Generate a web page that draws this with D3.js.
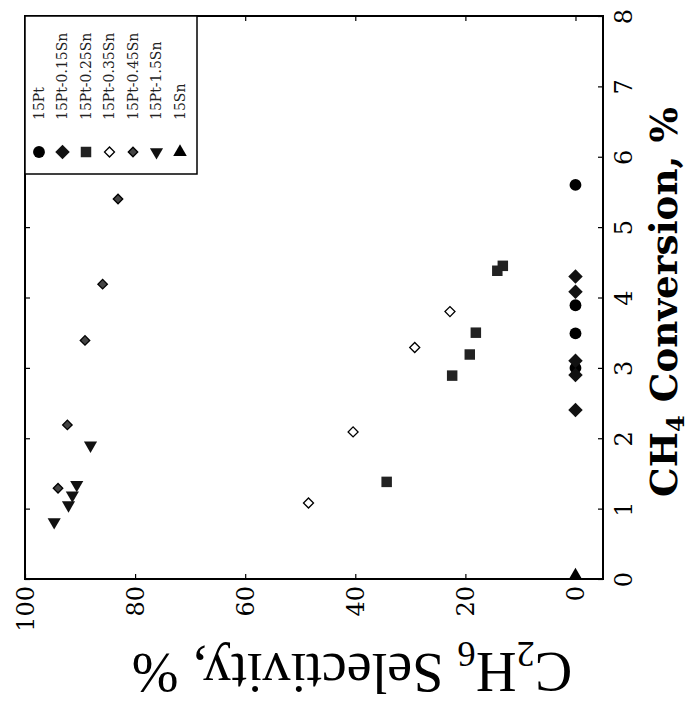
<!DOCTYPE html>
<html><head><meta charset="utf-8">
<script src="https://cdn.jsdelivr.net/npm/d3@7"></script>
<style>html,body{margin:0;padding:0;background:#fff;}</style>
</head><body>
<svg id="c" width="697" height="706"></svg>
<script>
// ---- data (selectivity %, conversion %) ----
const seriesNames = ["15Pt","15Pt-0.15Sn","15Pt-0.25Sn","15Pt-0.35Sn","15Pt-0.45Sn","15Pt-1.5Sn","15Sn"];
const s1Sel = [0, 0, 0, 0];             const s1Conv = [5.60, 3.89, 3.49, 3.00];
const s2Sel = [0, 0, 0, 0, 0];          const s2Conv = [4.30, 4.08, 3.10, 2.90, 2.40];
const s3Sel = [34.3, 22.4, 19.2, 18.1, 13.2, 14.2]; const s3Conv = [1.38, 2.89, 3.19, 3.50, 4.45, 4.38];
const s4Sel = [48.5, 40.4, 29.2, 22.8]; const s4Conv = [1.08, 2.09, 3.29, 3.80];
const s5Sel = [94.0, 92.3, 89.1, 85.9, 83.1]; const s5Conv = [1.29, 2.19, 3.39, 4.19, 5.40];
const s6Sel = [94.7, 92.1, 91.4, 90.6, 88.1]; const s6Conv = [0.81, 1.05, 1.19, 1.34, 1.90];
const s7Sel = [0];                      const s7Conv = [0.05];
const selTicks = [0, 20, 40, 60, 80, 100];
const convTicks = [0, 1, 2, 3, 4, 5, 6, 7, 8];

const allSel = [s1Sel, s2Sel, s3Sel, s4Sel, s5Sel, s6Sel, s7Sel];
const allConv = [s1Conv, s2Conv, s3Conv, s4Conv, s5Conv, s6Conv, s7Conv];

const svg = d3.select("#c");
const FONT = "'DejaVu Serif', 'Liberation Serif', serif";
const FONT2 = "'Liberation Serif', 'DejaVu Serif', serif";
const L = 25, R = 603, T = 16, B = 579;
// chart is shown rotated 90° CCW: selectivity runs right-to-left, conversion bottom-to-top
const xSel = d3.scaleLinear().domain([-5, 100]).range([R, L]);
const yConv = d3.scaleLinear().domain([0, 8]).range([B, T]);

// marker styles
const markers = [
  {type: d3.symbolCircle, size: 110, fill: "#000", stroke: "none", rot: 0},
  {type: d3.symbolSquare, size: 105, fill: "#111", stroke: "none", rot: 45},
  {type: d3.symbolSquare, size: 110, fill: "#222", stroke: "none", rot: 0},
  {type: d3.symbolSquare, size: 50, fill: "#fff", stroke: "#000", rot: 45},
  {type: d3.symbolSquare, size: 45, fill: "#444", stroke: "#000", rot: 45},
  {type: d3.symbolTriangle, size: 75, fill: "#111", stroke: "none", rot: 180},
  {type: d3.symbolTriangle, size: 80, fill: "#000", stroke: "none", rot: 0}
];
function drawMarker(g, m, x, y) {
  g.append("path")
    .attr("d", d3.symbol().type(m.type).size(m.size)())
    .attr("transform", `translate(${x},${y}) rotate(${m.rot})`)
    .attr("fill", m.fill).attr("stroke", m.stroke).attr("stroke-width", 1.3);
}

// axes (inward ticks, mirrored)
const axB = svg.append("g").attr("transform", `translate(0,${B})`)
  .call(d3.axisBottom(xSel).tickValues(selTicks).tickSize(-5).tickFormat(d3.format("d")));
const axT = svg.append("g").attr("transform", `translate(0,${T})`)
  .call(d3.axisTop(xSel).tickValues(selTicks).tickSize(-5).tickFormat(""));
const axR = svg.append("g").attr("transform", `translate(${R},0)`)
  .call(d3.axisRight(yConv).tickValues(convTicks).tickSize(-5).tickFormat(d3.format("d")));
const axLf = svg.append("g").attr("transform", `translate(${L},0)`)
  .call(d3.axisLeft(yConv).tickValues(convTicks).tickSize(-5).tickFormat(""));
[axB, axT, axR, axLf].forEach(a => { a.select(".domain").remove(); a.selectAll("line").attr("stroke", "#000").attr("stroke-width", 1.2); });

axB.selectAll("text")
  .attr("x", 0).attr("y", 0).attr("dy", "0.35em")
  .attr("transform", "translate(0,7) rotate(-90)")
  .attr("text-anchor", "end")
  .style("font-family", FONT).style("font-size", "24px").attr("fill", "#000");
axR.selectAll("text")
  .attr("x", 0).attr("y", 0).attr("dy", "0.35em")
  .attr("transform", "translate(21,0) rotate(-90)")
  .attr("text-anchor", "middle")
  .style("font-family", FONT).style("font-size", "24px").attr("fill", "#000");

// frame
svg.append("rect").attr("x", L).attr("y", T).attr("width", R - L).attr("height", B - T)
  .attr("fill", "none").attr("stroke", "#000").attr("stroke-width", 2);

// data points
const pts = svg.append("g");
allSel.forEach((sel, i) => {
  sel.forEach((s, j) => drawMarker(pts, markers[i], xSel(s), yConv(allConv[i][j])));
});

// legend (top-left corner of rotated view)
const lg = svg.append("g");
lg.append("rect").attr("x", L).attr("y", T).attr("width", 172).attr("height", 158)
  .attr("fill", "#fff").attr("stroke", "#000").attr("stroke-width", 1.5);
seriesNames.forEach((name, i) => {
  const cx = 39 + i * 23.5;
  drawMarker(lg, markers[i], cx, 152);
  lg.append("text").text(name)
    .attr("transform", `translate(${cx},120) rotate(-90)`)
    .attr("dy", "0.35em").attr("text-anchor", "start")
    .style("font-family", FONT).style("font-size", "14px").attr("fill", "#222");
});

// axis titles
function fitText(t, target) {
  const len = t.node().getComputedTextLength();
  const fs = parseFloat(t.style("font-size"));
  const nf = fs * target / len;
  t.style("font-size", nf + "px");
  t.selectAll("tspan.sub").style("font-size", (nf * 0.65) + "px");
}
const tC = svg.append("text")
  .attr("transform", "translate(677,302) rotate(-90)")
  .attr("text-anchor", "middle")
  .style("font-family", FONT).style("font-size", "34px").style("font-weight", "bold");
tC.append("tspan").text("CH");
tC.append("tspan").attr("class", "sub").text("4").attr("dy", "0.3em").style("font-size", "22px");
tC.append("tspan").text(" Conversion, %").attr("dy", "-0.2em");
fitText(tC, 390);

const tS = svg.append("text")
  .attr("transform", "translate(352,653) rotate(180)")
  .attr("text-anchor", "middle")
  .style("font-family", FONT2).style("font-size", "50px");
tS.append("tspan").text("C");
tS.append("tspan").attr("class", "sub").text("2").attr("dy", "0.3em").style("font-size", "32px");
tS.append("tspan").text("H").attr("dy", "-0.2em");
tS.append("tspan").attr("class", "sub").text("6").attr("dy", "0.3em").style("font-size", "32px");
tS.append("tspan").text(" Selectivity, %").attr("dy", "-0.2em");
fitText(tS, 440);
</script>
</body></html>
